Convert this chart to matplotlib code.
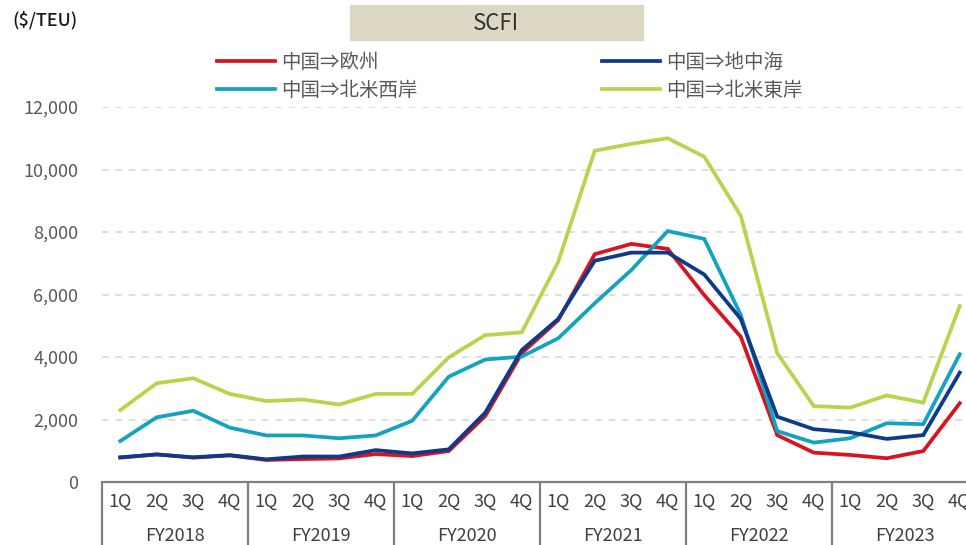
"""
SCFI quarterly freight index by route
"""

import matplotlib.pyplot as plt
from matplotlib.patches import Rectangle

plt.rcParams['font.family'] = ['Noto Sans CJK JP', 'DejaVu Sans']

quarters = ['1Q', '2Q', '3Q', '4Q'] * 6
years = ['FY2018', 'FY2019', 'FY2020', 'FY2021', 'FY2022', 'FY2023']

europe = [780, 885, 780, 850, 705, 735, 755, 895, 830, 990, 2110, 4120,
          5180, 7290, 7620, 7460, 5980, 4650, 1500, 940, 865, 760, 990, 2520]
mediterranean = [790, 880, 790, 860, 725, 815, 815, 1020, 915, 1045, 2220, 4220,
                 5220, 7080, 7340, 7340, 6640, 5220, 2090, 1690, 1590, 1380, 1500, 3500]
us_west = [1310, 2070, 2280, 1740, 1490, 1490, 1400, 1490, 1960, 3370, 3920, 4010,
           4600, 5720, 6780, 8030, 7780, 5350, 1630, 1260, 1400, 1880, 1850, 4090]
us_east = [2300, 3160, 3320, 2820, 2590, 2640, 2480, 2820, 2820, 3990, 4700, 4790,
           7050, 10600, 10820, 11000, 10410, 8520, 4120, 2430, 2380, 2770, 2540, 5630]

series = [
    ('中国⇒欧州', europe, '#d7141f'),
    ('中国⇒北米西岸', us_west, '#12a3c0'),
    ('中国⇒地中海', mediterranean, '#0d3a89'),
    ('中国⇒北米東岸', us_east, '#b6d54c'),
]

fig = plt.figure(figsize=(9.66, 5.45), dpi=100)
ax = fig.add_axes([102 / 966, 63 / 545, 876 / 966, 375 / 545])

x = list(range(len(quarters)))
for label, values, color in series:
    ax.plot(x, values, color=color, lw=2.7, label=label, solid_joinstyle='miter')

ax.set_xlim(-0.5, 23.5)
ax.set_ylim(0, 12000)
ax.set_yticks(range(0, 12001, 2000))
ax.set_yticklabels([f'{v:,}' for v in range(0, 12001, 2000)])
ax.set_xticks(x)
ax.set_xticklabels(quarters)
ax.tick_params(axis='y', length=0, pad=17, labelsize=13, labelcolor='#595959')
ax.tick_params(axis='x', length=0, pad=8, labelsize=13, labelcolor='#404040')
ax.grid(axis='y', color='#d9d9d9', lw=1.2, ls=(0, (4, 4)))
ax.set_axisbelow(True)
for side in ['left', 'top', 'right']:
    ax.spines[side].set_visible(False)
ax.spines['bottom'].set_color('#808080')
ax.spines['bottom'].set_linewidth(1.6)

# category boxes under the axis
trans = ax.get_xaxis_transform()
ax.vlines([i * 4 - 0.5 for i in range(7)], -0.2, 0, transform=trans,
          color='#808080', lw=1.6, clip_on=False)
for i, year in enumerate(years):
    ax.text(i * 4 + 1.5, -0.145, year, transform=trans, ha='center', va='center',
            fontsize=13, color='#404040')

# title box
fig.patches.append(Rectangle((350 / 966, 505 / 545), 293 / 966, 35 / 545,
                             transform=fig.transFigure, color='#ddd8c4', zorder=0))
fig.text(496 / 966, 1 - 23 / 545, 'SCFI', ha='center', va='center',
         fontsize=16, color='#333333')
fig.text(12 / 966, 1 - 20 / 545, '($/TEU)', ha='left', va='center',
         fontsize=13, color='#1a1a1a', fontweight='medium')

fig.legend(loc='upper left', bbox_to_anchor=(207 / 966, 1 - 42 / 545), ncol=2,
           frameon=False, fontsize=14, handlelength=3.0, handletextpad=0.3,
           columnspacing=9.5, labelspacing=0.38, borderpad=0, labelcolor='#595959')

plt.savefig('out.png')
